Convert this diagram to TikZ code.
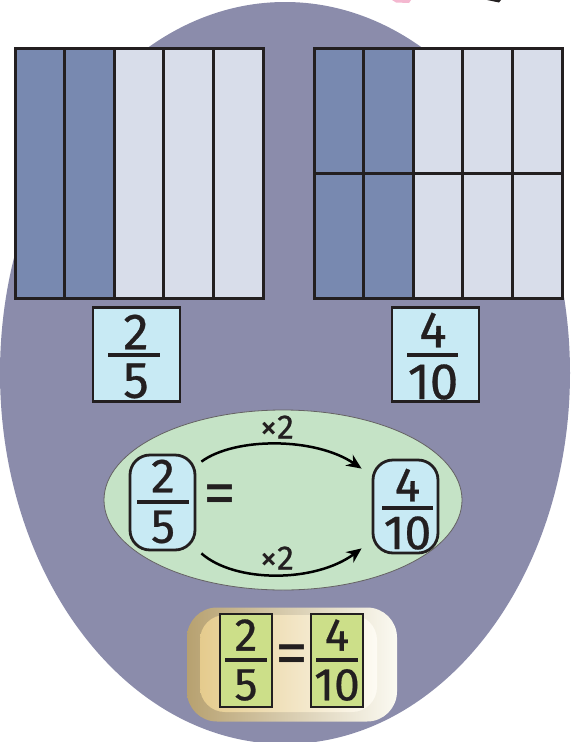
\documentclass[tikz,border=0pt]{standalone}
\usepackage{fontspec}
\setmainfont{Fira Sans}
\newfontfamily\digfont[FakeBold=0.6]{Fira Sans}
\usetikzlibrary{arrows.meta,shapes.geometric}
\definecolor{blobc}{HTML}{8B8CAB}
\definecolor{darkb}{HTML}{7889B0}
\definecolor{lightb}{HTML}{D8DDEA}
\definecolor{inkc}{HTML}{231F20}
\definecolor{cyanc}{HTML}{C8EAF4}
\definecolor{ellc}{HTML}{C5E3C6}
\definecolor{limec}{HTML}{CCDF89}
\definecolor{pinkc}{HTML}{F4B8D0}
\definecolor{tanL}{HTML}{B7A170}
\definecolor{tanM}{HTML}{D9C9A2}
\definecolor{tanR}{HTML}{FBFAF2}
\definecolor{inL}{HTML}{E5CB8D}
\definecolor{inM}{HTML}{F0DFB6}
\definecolor{inR}{HTML}{FDFBF4}
\begin{document}
\begin{tikzpicture}[x=1pt,y=-1pt,
  gridline/.style={draw=inkc,line width=3pt},
  fbox/.style={draw=inkc,fill=cyanc,line width=2.5pt,inner sep=0pt},
  rbox/.style={draw=inkc,fill=cyanc,line width=2.8pt,rounded corners=20pt,inner sep=0pt},
  gbox/.style={draw=inkc,fill=limec,line width=2.5pt,inner sep=0pt},
  fbar/.style={draw=inkc,line width=4pt},
  dig/.style={inner sep=0pt,text=inkc,font=\digfont\fontsize{51}{51}\selectfont},
  digs/.style={inner sep=0pt,text=inkc,font=\digfont\fontsize{48}{48}\selectfont},
  digb/.style={inner sep=0pt,text=inkc,font=\digfont\fontsize{46}{46}\selectfont},
  eqs/.style={inner sep=0pt,text=inkc,font=\fontsize{66}{66}\selectfont},
  lab/.style={inner sep=0pt,text=inkc,font=\digfont\fontsize{34}{34}\selectfont},
  arr/.style={draw=black,line width=2.5pt,-{Stealth[length=15pt,width=13pt]}}
]
\useasboundingbox (0,0) rectangle (573,742);
% background blob
\fill[blobc] (285,373) ellipse [x radius=285, y radius=371];
% clipped fragments at the top edge
\fill[pinkc] (392,0) -- (411,0) -- (409,3) -- (396,2.5) -- cycle;
\fill[inkc] (487,0) -- (501,0) -- (499,2.5) -- cycle;

% left fraction bar (2/5)
\fill[darkb] (15,48) rectangle (114.2,298);
\fill[lightb] (114.2,48) rectangle (263,298);
\foreach \xx in {64.6,114.2,163.8,213.4} \draw[gridline] (\xx,48) -- (\xx,298);
\draw[gridline] (15,48) rectangle (263,298);

% right fraction bar (4/10)
\fill[darkb] (314,48) rectangle (413.2,298);
\fill[lightb] (413.2,48) rectangle (562,298);
\foreach \xx in {363.6,413.2,462.8,512.4} \draw[gridline] (\xx,48) -- (\xx,298);
\draw[gridline] (314,173) -- (562,173);
\draw[gridline] (314,48) rectangle (562,298);

% fraction labels under the bars
\node[fbox,minimum width=87pt,minimum height=94pt] (b1) at (136.5,354.5) {};
\node[dig] (b1n) at (136,332) {2};
\draw[fbar] (108,355) -- (160,355);
\node[dig] (b1d) at (136,381) {5};

\node[fbox,minimum width=87pt,minimum height=94pt] (b2) at (435.5,354.5) {};
\node[dig] (b2n) at (433,330) {4};
\draw[fbar] (407,354.5) -- (458,354.5);
\node[dig] (b2d) at (433,382) {10};

% green ellipse
\node[ellipse,draw=inkc!70,line width=0.8pt,fill=ellc,minimum width=358pt,minimum height=180pt] (ell) at (283,500) {};

\node[rbox,minimum width=65pt,minimum height=95pt] (lb) at (162.5,502.5) {};
\node[digs] (lbn) at (163,476) {2};
\draw[fbar] (137,502) -- (189,502);
\node[digs] (lbd) at (163,527) {5};
\node[eqs] (eq1) at (220,500) {=};

\node[rbox,minimum width=65pt,minimum height=93pt] (rb) at (405.5,506.5) {};
\node[digs] (rbn) at (407.5,485) {4};
\draw[fbar] (382,507.5) -- (433,507.5);
\node[digs] (rbd) at (407.5,533) {10};

% arrows
\draw[arr] ([shift={(5,8)}]lb.north east) .. controls (235,437) and (315,437) .. ([shift={(-10,10)}]rb.north west);
\draw[arr] ([shift={(5,2)}]lb.south east) .. controls (235,583) and (315,583) .. ([shift={(-10,-6)}]rb.south west);
\node[lab] (t1) at (277,427) {×2};
\node[lab] (t2) at (277,558) {×2};

% bottom summary
\node[rounded corners=30pt,minimum width=210pt,minimum height=114pt,inner sep=0pt,
  left color=tanL,middle color=tanM,right color=tanR,shading=axis] (ob) at (292,664.5) {};
\node[rounded corners=25pt,minimum width=177pt,minimum height=97pt,inner sep=0pt,
  left color=inL,middle color=inM,right color=inR,shading=axis] (ib) at (288.5,663.5) {};

\node[gbox,minimum width=52pt,minimum height=93pt] (g1) at (246,660.5) {};
\node[digb] (g1n) at (246,635) {2};
\draw[fbar] (225,660) -- (267,660);
\node[digb] (g1d) at (246,685) {5};
\node[eqs] (eq2) at (291.5,660) {=};
\node[gbox,minimum width=52pt,minimum height=93pt] (g2) at (337,660.5) {};
\node[digb] (g2n) at (337,635) {4};
\draw[fbar] (316,660) -- (358,660);
\node[digb] (g2d) at (337,685) {10};
\end{tikzpicture}
\end{document}
